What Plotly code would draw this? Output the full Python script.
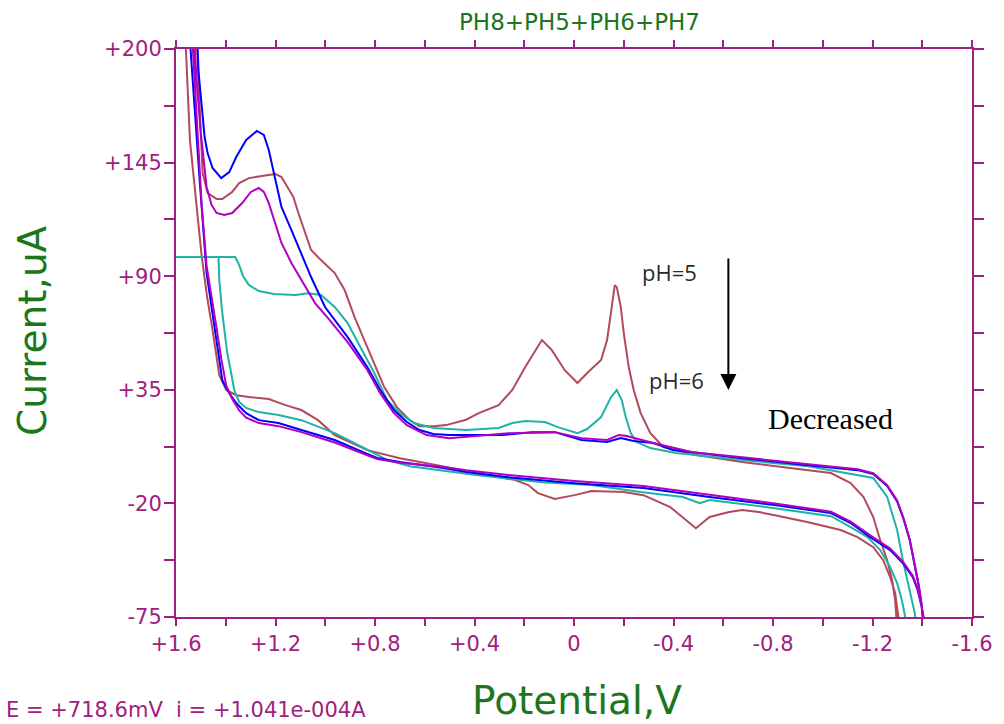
import plotly.graph_objects as go

# ---------------- data (potential V, current uA) ----------------
# pH 5 (brown)
ph5_upper_v = [1.517, 1.505, 1.493, 1.473, 1.437, 1.414, 1.374, 1.346, 1.307, 1.255, 1.200, 1.176, 1.156, 1.128,
               1.108, 1.081, 1.057, 1.017, 0.962, 0.922, 0.882, 0.843, 0.803, 0.763, 0.712, 0.660, 0.621, 0.565,
               0.514, 0.434, 0.383, 0.303, 0.248, 0.196, 0.129, 0.089, 0.038, -0.014, -0.053, -0.109, -0.133,
               -0.153, -0.164, -0.172, -0.188, -0.200, -0.220, -0.240, -0.268, -0.307, -0.359, -0.490, -0.676,
               -0.942, -1.033, -1.112, -1.164, -1.203, -1.231, -1.259, -1.279, -1.291, -1.299]
ph5_upper_i = [205, 175.3, 140.0, 130.3, 127.4, 127.4, 130.8, 135.1, 137.5, 138.5, 139.5, 138.0, 134.1, 128.3,
               120.6, 110.9, 102.7, 97.8, 91.5, 83.3, 70.2, 59.1, 47.9, 36.3, 26.6, 20.3, 17.4, 17.4,
               17.9, 20.5, 23.7, 27.6, 34.9, 46.0, 59.1, 54.2, 44.6, 38.3, 43.1, 49.4, 59.1,
               75.1, 85.7, 84.7, 75.1, 62.5, 46.0, 34.9, 23.7, 14.0, 7.3, 3.4, 0.0,
               -3.9, -5.3, -10.2, -16.9, -26.6, -37.8, -47.5, -57.1, -66.8, -80]
ph5_lower_v = [-1.310, -1.303, -1.291, -1.271, -1.243, -1.203, -1.140, -1.072, -0.942, -0.807, -0.743, -0.676,
               -0.624, -0.545, -0.490, -0.387, -0.279, -0.200, -0.070, -0.002, 0.077, 0.145, 0.184, 0.236,
               0.303, 0.395, 0.550, 0.700, 0.831, 0.962, 1.029, 1.096, 1.160, 1.227, 1.307, 1.358, 1.398,
               1.426, 1.453, 1.475, 1.497, 1.517, 1.544, 1.562]
ph5_lower_i = [-80, -73.1, -63.4, -55.7, -47.5, -41.2, -36.3, -32.9, -29.1, -25.7, -24.2, -23.2,
               -24.2, -26.6, -32.0, -21.8, -16.0, -14.5, -14.0, -16.0, -17.9, -15.0, -11.1, -8.7,
               -7.3, -5.3, -1.5, 1.9, 5.8, 13.1, 20.3, 25.2, 27.6, 30.5, 31.5, 32.4, 34.9,
               42.1, 63.9, 80.0, 100.0, 123.5, 155.9, 205]

# pH 6 (cyan)
ph6_upper_v = [1.600, 1.362, 1.346, 1.330, 1.307, 1.267, 1.207, 1.120, 1.069, 1.017, 0.962, 0.910, 0.859, 0.803,
               0.751, 0.700, 0.644, 0.565, 0.434, 0.303, 0.248, 0.196, 0.117, 0.065, -0.014, -0.053, -0.109,
               -0.149, -0.172, -0.192, -0.208, -0.228, -0.252, -0.307, -0.410, -0.676, -0.942, -1.112, -1.203,
               -1.259, -1.299, -1.322, -1.350, -1.370, -1.378]
ph6_upper_i = [99.3, 99.3, 95.4, 90.0, 85.7, 82.8, 81.4, 80.9, 81.8, 80.9, 75.1, 67.3, 55.7, 43.1,
               30.0, 23.7, 18.9, 16.5, 15.5, 16.5, 18.9, 19.9, 19.4, 16.9, 14.0, 16.0, 21.8,
               31.5, 34.9, 30.0, 21.8, 14.0, 9.7, 6.8, 4.4, 1.0, -2.0, -5.8, -7.7,
               -16.9, -32.9, -47.5, -63.4, -73.1, -80]
ph6_lower_v = [-1.338, -1.334, -1.318, -1.299, -1.271, -1.231, -1.180, -1.112, -1.033, -0.807, -0.545, -0.505,
               -0.438, -0.268, -0.070, 0.129, 0.395, 0.660, 0.750, 0.831, 0.962, 1.096, 1.188, 1.267, 1.318,
               1.346, 1.366, 1.378, 1.394, 1.414, 1.426, 1.429, 1.600]
ph6_lower_i = [-80, -76.5, -66.8, -58.6, -50.8, -42.6, -36.3, -31.5, -26.2, -22.3, -18.4, -19.9,
               -16.9, -14.5, -11.1, -9.7, -6.3, -2.0, 1.0, 6.0, 14.0, 20.3, 22.8, 24.2, 26.2,
               29.1, 34.9, 43.1, 52.8, 72.2, 88.1, 99.3, 99.3]

# pH 7 (blue)
ph7_upper_v = [1.517, 1.513, 1.509, 1.497, 1.485, 1.473, 1.453, 1.418, 1.386, 1.358, 1.318, 1.275, 1.247, 1.227,
               1.200, 1.176, 1.136, 1.096, 1.057, 1.001, 0.910, 0.831, 0.779, 0.724, 0.672, 0.621, 0.565, 0.502,
               0.288, 0.169, 0.077, -0.030, -0.133, -0.188, -0.240, -0.319, -0.398, -0.477, -0.676, -0.942,
               -1.140, -1.203, -1.259, -1.299, -1.326, -1.350, -1.370, -1.386, -1.396, -1.402, -1.406]
ph7_upper_i = [206, 200, 188.4, 171.9, 157.4, 149.6, 142.4, 137.5, 140.4, 147.7, 156.0, 160.3, 158.4, 151.1,
               136.6, 123.5, 112.3, 101.2, 89.6, 75.1, 60.5, 46.0, 34.9, 25.2, 19.4, 15.5, 13.6, 13.1,
               13.1, 14.5, 14.5, 10.7, 9.7, 11.6, 10.2, 9.2, 5.8, 4.8, 1.9, -1.5,
               -3.9, -5.8, -11.6, -19.0, -28.0, -38.0, -50.0, -60.0, -68.0, -74.0, -80]
ph7_lower_v = [-1.412, -1.398, -1.382, -1.362, -1.322, -1.271, -1.191, -1.112, -1.033, -0.807, -0.545, -0.279,
               -0.002, 0.264, 0.434, 0.525, 0.700, 0.791, 0.831, 0.962, 1.096, 1.188, 1.267, 1.318, 1.358,
               1.386, 1.414, 1.433, 1.453, 1.477, 1.505, 1.541, 1.545]
ph7_lower_i = [-80, -70.2, -62.0, -55.7, -48.9, -42.6, -36.3, -29.5, -24.7, -20.8, -16.9, -12.6,
               -10.2, -7.3, -4.8, -2.9, 0.0, 2.0, 4.0, 10.7, 15.5, 18.9, 20.3, 23.7, 28.6,
               33.4, 39.7, 55.7, 72.2, 91.5, 136.6, 200, 206]

# pH 8 (magenta)
ph8_upper_v = [1.527, 1.517, 1.501, 1.485, 1.477, 1.457, 1.437, 1.406, 1.374, 1.334, 1.299, 1.267, 1.247, 1.227,
               1.200, 1.176, 1.136, 1.096, 1.041, 0.989, 0.910, 0.831, 0.779, 0.724, 0.672, 0.593, 0.502, 0.264,
               0.077, -0.030, -0.133, -0.180, -0.212, -0.319, -0.477, -0.676, -0.942, -1.140, -1.203, -1.259,
               -1.299, -1.326, -1.350, -1.370, -1.386, -1.396, -1.402, -1.406]
ph8_upper_i = [205, 185, 160, 140, 133.2, 124.5, 120.6, 119.6, 120.6, 125.4, 130.8, 132.7, 130.8, 125.4,
               115.7, 106.1, 96.4, 88.1, 77.0, 69.7, 58.1, 44.6, 33.4, 23.7, 17.9, 13.1, 11.6, 14.0,
               14.5, 11.6, 10.7, 13.1, 12.6, 9.2, 4.8, 2.3, -1.1, -3.5, -5.4, -11.2,
               -18.6, -27.6, -37.6, -49.6, -59.6, -67.6, -73.6, -80]
ph8_lower_v = [-1.412, -1.398, -1.382, -1.362, -1.322, -1.271, -1.191, -1.112, -1.033, -0.807, -0.545, -0.279,
               -0.002, 0.264, 0.434, 0.525, 0.700, 0.791, 0.831, 0.962, 1.096, 1.188, 1.267, 1.318, 1.346,
               1.374, 1.398, 1.418, 1.437, 1.457, 1.477, 1.497, 1.529, 1.535]
ph8_lower_i = [-80, -70.0, -61.5, -55.0, -48.2, -41.8, -35.5, -28.8, -24.0, -20.0, -15.8, -11.6,
               -9.2, -6.3, -4.0, -2.4, -0.3, 1.5, 3.3, 9.5, 14.5, 17.4, 18.9, 21.5, 25.0,
               30.5, 37.0, 50.0, 65.0, 80.0, 95.0, 125.0, 190.0, 206]

x_tick_vals = [1.6, 1.2, 0.8, 0.4, 0.0, -0.4, -0.8, -1.2, -1.6]
x_tick_text = ["+1.6", "+1.2", "+0.8", "+0.4", "0", "-0.4", "-0.8", "-1.2", "-1.6"]
x_minor_vals = [1.4, 1.0, 0.6, 0.2, -0.2, -0.6, -1.0, -1.4]
y_tick_vals = [-75, -20, 35, 90, 145, 200]
y_tick_text = ["-75", "-20", "+35", "+90", "+145", "+200"]
y_minor_vals = [-47.5, 7.5, 62.5, 117.5, 172.5]

# ---------------- styles ----------------
AX = "#A0207E"
GREEN = "#1C761C"
series = [
    ("PH5", ph5_upper_v + ph5_lower_v, ph5_upper_i + ph5_lower_i, "#B24A5C"),
    ("PH6", ph6_upper_v + ph6_lower_v, ph6_upper_i + ph6_lower_i, "#1FB2A8"),
    ("PH7", ph7_upper_v + ph7_lower_v, ph7_upper_i + ph7_lower_i, "#0000FF"),
    ("PH8", ph8_upper_v + ph8_lower_v, ph8_upper_i + ph8_lower_i, "#B000C0"),
]

fig = go.Figure()
for name, xs, ys, col in series:
    fig.add_trace(go.Scatter(x=xs, y=ys, mode="lines", name=name,
                             line=dict(color=col, width=2), hoverinfo="skip"))

L, R, T, B = 176, 983, 49, 617
W, H = 1004, 724


def px(x):
    return (x - L) / (R - L)


def py(y):
    return (B - y) / (B - T)


axis_common = dict(showline=True, linecolor=AX, linewidth=2, mirror="ticks", showgrid=False, zeroline=False,
                   ticks="outside", tickwidth=2, tickcolor=AX,
                   tickfont=dict(family="DejaVu Sans", size=21, color=AX))

fig.update_xaxes(range=[1.6, -1.6], tickmode="array", tickvals=x_tick_vals, ticktext=x_tick_text, ticklen=7,
                 ticklabelstandoff=0,
                 minor=dict(tickmode="array", tickvals=x_minor_vals, ticks="outside", ticklen=7, tickwidth=2,
                            tickcolor=AX, showgrid=False),
                 **axis_common)
fig.update_yaxes(range=[-75, 200], tickmode="array", tickvals=y_tick_vals, ticktext=y_tick_text, ticklen=10,
                 ticklabelstandoff=-2,
                 minor=dict(tickmode="array", tickvals=y_minor_vals, ticks="outside", ticklen=10, tickwidth=2,
                            tickcolor=AX, showgrid=False),
                 **axis_common)

annotations = [
    dict(text="PH8+PH5+PH6+PH7", x=px(585), y=py(22), font=dict(family="DejaVu Sans", size=23, color=GREEN)),
    dict(text="Current,uA", x=px(30), y=py(330), textangle=-90,
         font=dict(family="DejaVu Sans", size=39, color=GREEN)),
    dict(text="Potential,V", x=px(583), y=py(700), font=dict(family="DejaVu Sans", size=39, color=GREEN)),
    dict(text="E = +718.6mV\u00a0\u00a0i = +1.041e-004A", x=px(2), y=py(710), xanchor="left",
         font=dict(family="DejaVu Sans", size=21, color=AX)),
    dict(text="pH=5", x=px(676), y=py(272), font=dict(family="Open Sans", size=22, color="#2B2B2B")),
    dict(text="pH=6", x=px(683), y=py(380), font=dict(family="Open Sans", size=22, color="#2B2B2B")),
    dict(text="Decreased", x=px(840), y=py(418), font=dict(family="Liberation Serif", size=30, color="#000000")),
]
for a in annotations:
    a.setdefault("xanchor", "center")
    a.update(xref="paper", yref="paper", yanchor="middle", showarrow=False)

annotations.append(dict(x=px(736), y=py(390), xref="paper", yref="paper", text="", showarrow=True,
                        ax=0, ay=-133, arrowhead=2, arrowsize=1.6, arrowwidth=2, arrowcolor="#000000"))

fig.update_layout(width=W, height=H, margin=dict(l=L, r=W - R, t=T, b=H - B),
                  paper_bgcolor="white", plot_bgcolor="white", showlegend=False,
                  annotations=annotations)

fig.write_html("out.html")
